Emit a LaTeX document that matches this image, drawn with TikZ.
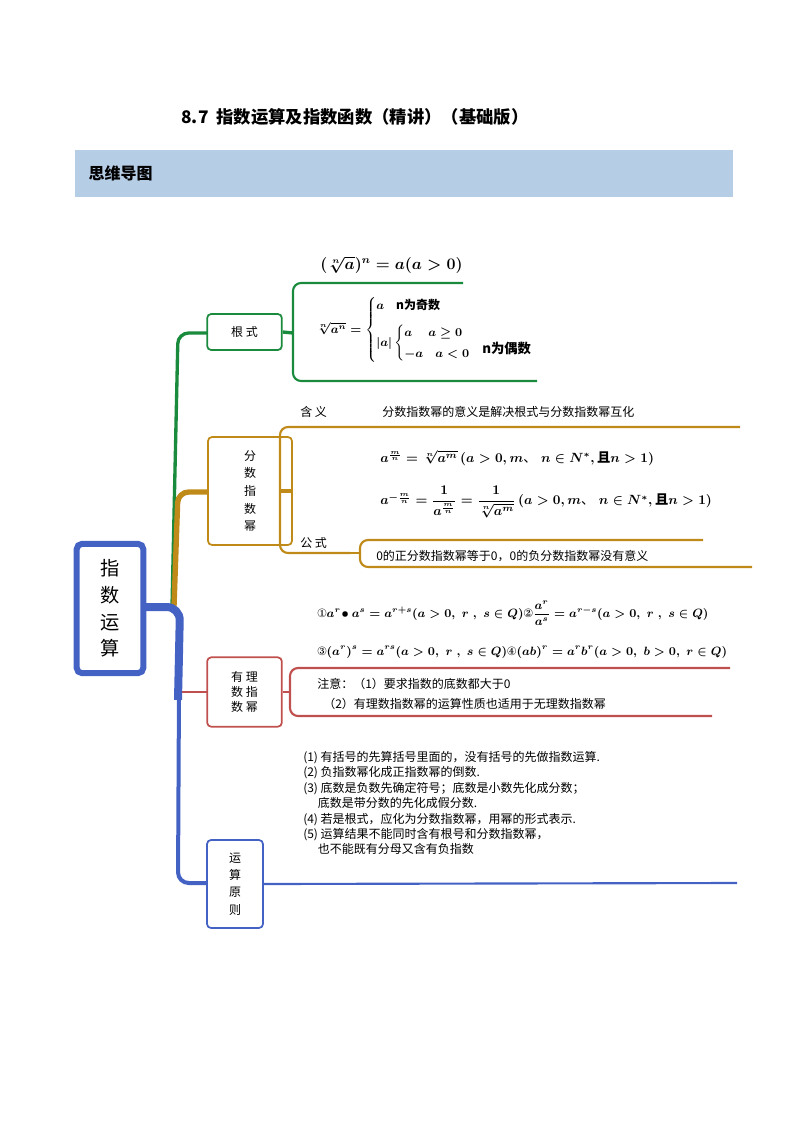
\documentclass[tikz,border=0pt]{standalone}
\usepackage{amsmath,amssymb}
\usepackage{fontspec}
\newfontfamily\cjk{Noto Sans CJK SC}
\usepackage{pifont}
\definecolor{cg}{HTML}{1A8A3C}
\definecolor{cy}{HTML}{C08A18}
\definecolor{cr}{HTML}{C0504D}
\definecolor{cb}{HTML}{4462C4}
\definecolor{band}{HTML}{B6CDE6}
\newcommand{\cc}[1]{\mbox{\cjk #1}}
\newcommand{\cj}[1]{\mbox{\cjk\bfseries #1}}
\begin{document}
\begin{tikzpicture}[x=0.75pt,y=-0.75pt,
  box/.style={draw=#1,line width=1.3pt,rounded corners=3pt,fill=white,inner sep=0pt,font=\cjk\small,align=center},
  br/.style={draw=#1,line width=1.6pt,rounded corners=6pt},
  tx/.style={anchor=west,inner sep=0pt,font=\cjk\small},
  fm/.style={anchor=west,inner sep=0pt,font=\boldmath\normalsize}]
\useasboundingbox (0,0) rectangle (800,1132);
\node[font=\cjk\bfseries\fontsize{13}{15}\selectfont] (title) at (355,117) {8.7\ \ 指数运算及指数函数（精讲）（基础版）};
\fill[band] (75,150) rectangle (733,197);
\node[anchor=west,font=\cjk\bfseries\large] (hd) at (84,173) {思维导图};
% trunk
\draw[cg,line width=2.5pt,rounded corners=8pt] (172,607) -- (178,333) -- (207,333);
\draw[cy,line width=4pt,rounded corners=8pt] (174,607) -- (178,492) -- (208,492);
\draw[cr,line width=2pt] (178,692) -- (207,692);
\draw[cb,line width=6pt,rounded corners=10pt] (140,607) -- (180,607) -- (178,700);
\draw[cb,line width=3pt,rounded corners=8pt] (179,690) -- (178,883) -- (207,883);
\node[draw=cb,line width=4.5pt,rounded corners=4pt,fill=white,minimum width=50pt,minimum height=97pt,font=\cjk\Large,align=center] (root) at (110,608.5) {指\\[2pt]数\\[2pt]运\\[2pt]算};
% boxes
\node[box=cg,minimum width=56pt,minimum height=27pt] (b1) at (244.5,332) {根\ 式};
\node[box=cy,minimum width=63pt,minimum height=81pt,font=\cjk\small\linespread{1.2}\selectfont] (b2) at (250,491) {分\\数\\指\\数\\幂};
\node[box=cr,minimum width=56pt,minimum height=52pt] (b3) at (244.5,692) {有\ 理\\数\ 指\\数\ 幂};
\node[box=cb,minimum width=42pt,minimum height=66pt] (b4) at (235,884) {运\\[2pt]算\\[2pt]原\\[2pt]则};
% genshi
\coordinate (g0) at (293,333);
\draw[cg,line width=2.5pt] (b1.east) -- (g0);
\draw[br=cg] (463,283) -- (293,283) -- (293,381) -- (537,381);
\node[fm,font=\boldmath\large] (f1) at (320,265) {$(\sqrt[n]{a})^n=a(a>0)$};
\node[fm,font=\boldmath\small] (f2) at (316,330) {$\sqrt[n]{a^n}=\begin{cases}a\quad \text{\cj{n为奇数}}\\[7pt] |a|\begin{cases}a\quad\ a\ge0\\[3pt] -a\quad a<0\end{cases}\end{cases}$};
\node[tx,font=\cjk\bfseries] (f2b) at (482,348) {n为偶数};
% fenshu
\draw[cy,line width=3pt] (b2.east) -- (280,491);
\draw[br=cy] (740,427) -- (280,427) -- (280,553) -- (350,553);
\draw[br=cy] (703,540) -- (360,540) -- (360,567) -- (752,567);
\draw[cy,line width=1.6pt] (350,553) -- (360,553);
\node[tx] (hy) at (300,412) {含\ 义};
\node[tx] (hyt) at (382,412) {分数指数幂的意义是解决根式与分数指数幂互化};
\node[fm] (f3) at (380,458) {$a^{\frac{m}{n}}=\sqrt[n]{a^m}\,(a>0,m\text{\cc{、}}\ n\in N^{*},\text{\cj{且}}n>1)$};
\node[fm] (f4) at (380,502) {$a^{-\frac{m}{n}}=\dfrac{1}{a^{\frac{m}{n}}}=\dfrac{1}{\sqrt[n]{a^m}}\,(a>0,m\text{\cc{、}}\ n\in N^{*},\text{\cj{且}}n>1)$};
\node[tx] (gs) at (300,543) {公\ 式};
\node[tx] (gst) at (376,556) {0的正分数指数幂等于0，0的负分数指数幂没有意义};
% youli
\draw[cr,line width=2pt] (b3.east) -- (290,692);
\draw[br=cr] (730,668) -- (290,668) -- (290,716) -- (712,716);
\node[fm,font=\boldmath\small] (f5) at (317,613) {\ding{172}$a^r\!\bullet a^s=a^{r+s}(a>0,\ r\ ,\ s\in Q)$\ding{173}$\dfrac{a^r}{a^s}=a^{r-s}(a>0,\ r\ ,\ s\in Q)$};
\node[fm,font=\boldmath\small] (f6) at (317,652) {\ding{174}$(a^r)^s=a^{rs}(a>0,\ r\ ,\ s\in Q)$\ding{175}$(ab)^r=a^rb^r(a>0,\ b>0,\ r\in Q)$};
\node[tx] (n1) at (317,684) {注意：（1）要求指数的底数都大于0};
\node[tx] (n2) at (323,704) {（2）有理数指数幂的运算性质也适用于无理数指数幂};
% yunsuan
\draw[cb,line width=1.6pt] (b4.east) -- (737,883);
\node[tx,align=left,font=\cjk\small\linespread{1.05}\selectfont,anchor=north west] (rules) at (303,751) {(1) 有括号的先算括号里面的，没有括号的先做指数运算.\\(2) 负指数幂化成正指数幂的倒数.\\(3) 底数是负数先确定符号；底数是小数先化成分数；\\\quad\ 底数是带分数的先化成假分数.\\(4) 若是根式，应化为分数指数幂，用幂的形式表示.\\(5) 运算结果不能同时含有根号和分数指数幂，\\\quad\ 也不能既有分母又含有负指数};
\end{tikzpicture}
\end{document}
